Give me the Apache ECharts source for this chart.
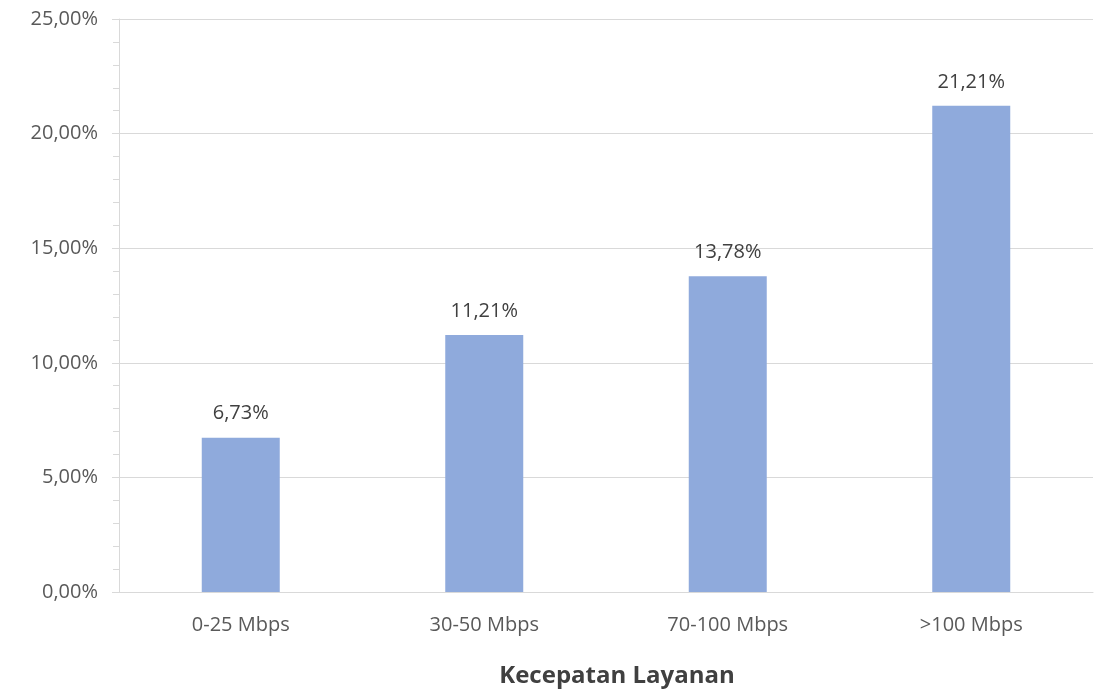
<!DOCTYPE html>
<html>
<head>
<meta charset="utf-8">
<script src="https://cdn.jsdelivr.net/npm/echarts@6/dist/echarts.min.js"></script>
<style>
  html, body { margin: 0; padding: 0; background: #fff; }
  #main { width: 1107px; height: 692px; }
</style>
</head>
<body>
<div id="main"></div>
<script>
// data
var categories = ['0-25 Mbps', '30-50 Mbps', '70-100 Mbps', '>100 Mbps'];
var values = [6.73, 11.21, 13.78, 21.21];
var axisTitle = 'Kecepatan Layanan';

var fontName = '"Open Sans", sans-serif';

function pct(v) {
  // 6.73 -> "6,73%"
  return v.toFixed(2).replace('.', ',') + '%';
}

var chart = echarts.init(document.getElementById('main'), null, { renderer: 'canvas' });

var option = {
  animation: false,
  grid: { left: 119, right: 14, top: 19, bottom: 100, containLabel: false, outerBoundsMode: 'none' },
  xAxis: {
    type: 'category',
    data: categories,
    name: axisTitle,
    nameLocation: 'middle',
    nameGap: 72,
    nameTextStyle: {
      fontFamily: fontName, fontSize: 24, fontWeight: 'bold', color: '#404040',
      padding: [0, 0, 0, 22]
    },
    axisLine: { lineStyle: { color: '#d9d9d9', width: 1 } },
    axisTick: { show: false },
    axisLabel: { fontFamily: fontName, fontSize: 20, color: '#595959', margin: 23 }
  },
  yAxis: {
    type: 'value',
    min: 0,
    max: 25,
    interval: 5,
    axisLine: { show: true, lineStyle: { color: '#d9d9d9', width: 1 } },
    axisTick: { show: true, length: 7, lineStyle: { color: '#d9d9d9' } },
    minorTick: { show: true, splitNumber: 5, length: 6, lineStyle: { color: '#d9d9d9' } },
    splitLine: { lineStyle: { color: '#d9d9d9', width: 1 } },
    axisLabel: {
      fontFamily: fontName, fontSize: 20, color: '#595959', margin: 21,
      formatter: function (v) { return pct(v); }
    }
  },
  series: [{
    type: 'bar',
    data: values,
    barWidth: 78,
    itemStyle: { color: '#8faadc' },
    label: {
      show: true,
      position: 'top',
      distance: 14,
      fontFamily: fontName,
      fontSize: 20,
      color: '#404040',
      formatter: function (p) { return pct(p.value); }
    }
  }]
};

chart.setOption(option);
</script>
</body>
</html>
